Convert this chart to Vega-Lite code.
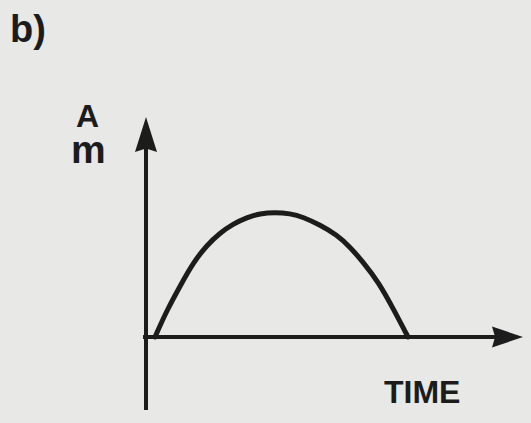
{
  "$schema": "https://vega.github.io/schema/vega-lite/v6.json",
  "width": 531,
  "height": 423,
  "padding": 0,
  "autosize": {"type": "fit", "contains": "padding"},
  "background": "#e8e8e6",
  "config": {"view": {"stroke": null}},
  "datasets": {
    "curve": [
      {"t": 0.36, "a": 0.0},
      {"t": 0.84, "a": 1.08},
      {"t": 1.43, "a": 2.16},
      {"t": 1.88, "a": 2.96},
      {"t": 2.44, "a": 3.68},
      {"t": 2.96, "a": 4.16},
      {"t": 3.48, "a": 4.52},
      {"t": 4.04, "a": 4.78},
      {"t": 4.56, "a": 4.94},
      {"t": 5.16, "a": 4.99},
      {"t": 5.76, "a": 4.94},
      {"t": 6.28, "a": 4.8},
      {"t": 6.96, "a": 4.48},
      {"t": 7.64, "a": 4.08},
      {"t": 8.16, "a": 3.6},
      {"t": 8.68, "a": 3.0},
      {"t": 9.3, "a": 2.2},
      {"t": 9.92, "a": 1.08},
      {"t": 10.48, "a": 0.0}
    ],
    "axes": [
      {"axis": "amplitude", "t": 0, "a": -2.92, "t2": 0, "a2": 7.6},
      {"axis": "time", "t": -0.12, "a": 0, "t2": 13.96, "a2": 0}
    ],
    "heads": [
      {"axis": "amplitude", "t": 0, "a": 8.1},
      {"axis": "time", "t": 14.46, "a": 0}
    ],
    "labels": [
      {"label": "b)", "role": "panel", "t": -5.44, "a": 11.8},
      {"label": "A", "role": "axis", "t": -2.8, "a": 8.4},
      {"label": "TIME", "role": "axis", "t": 9.52, "a": -2.64}
    ],
    "unit": [
      {"label": "m", "t": -3.0, "a": 6.96}
    ]
  },
  "encoding": {
    "x": {"field": "t", "type": "quantitative", "scale": {"domain": [-5.84, 15.4], "nice": false, "zero": false}, "axis": null},
    "y": {"field": "a", "type": "quantitative", "scale": {"domain": [-3.44, 13.48], "nice": false, "zero": false}, "axis": null}
  },
  "layer": [
    {
      "data": {"name": "axes"},
      "mark": {"type": "rule", "color": "#1c1c1c", "strokeWidth": 4},
      "encoding": {
        "x2": {"field": "t2"},
        "y2": {"field": "a2"}
      }
    },
    {
      "data": {"name": "heads"},
      "transform": [{"filter": "datum.axis === 'amplitude'"}],
      "mark": {"type": "point", "shape": "M0,-1L0.63,1L0,0.8L-0.63,1Z", "size": 1225, "filled": true, "color": "#1c1c1c", "opacity": 1}
    },
    {
      "data": {"name": "heads"},
      "transform": [{"filter": "datum.axis === 'time'"}],
      "mark": {"type": "point", "shape": "M1,0L-1,0.68L-0.8,0L-1,-0.68Z", "size": 961, "filled": true, "color": "#1c1c1c", "opacity": 1}
    },
    {
      "data": {"name": "curve"},
      "mark": {"type": "line", "color": "#1c1c1c", "strokeWidth": 5, "interpolate": "basis", "strokeCap": "round"}
    },
    {
      "data": {"name": "labels"},
      "mark": {"type": "text", "align": "left", "baseline": "alphabetic", "font": "Liberation Sans", "fontWeight": "bold", "color": "#1c1c1c"},
      "encoding": {
        "text": {"field": "label"},
        "size": {"condition": {"test": "datum.label === 'b)'", "value": 38}, "value": 32}
      }
    },
    {
      "data": {"name": "unit"},
      "mark": {"type": "text", "align": "left", "baseline": "alphabetic", "font": "Liberation Sans", "fontWeight": "bold", "fontSize": 39, "color": "#1c1c1c"},
      "encoding": {
        "text": {"field": "label"}
      }
    }
  ]
}
